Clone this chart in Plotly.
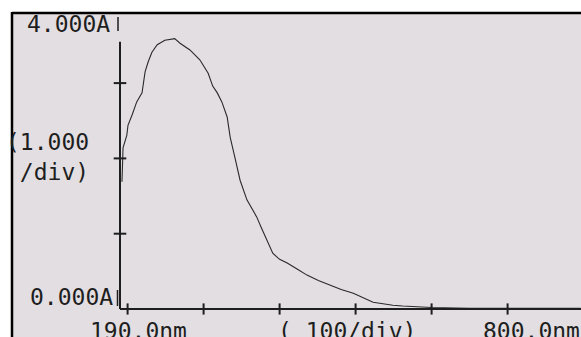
import plotly.graph_objects as go

# Spectrum data (wavelength nm, absorbance A)
wavelength_nm = [192.6, 193.4, 194, 199, 200.5, 206, 212, 219, 221.5, 223, 227, 232, 239, 249, 262,
                 269, 282, 295, 306, 312, 318, 324, 331, 335, 341, 348, 357, 363, 370, 376,
                 381, 386, 391, 400, 410, 423, 436, 451, 466, 481, 497, 510,
                 523, 536, 549, 562, 576, 600, 650, 700, 750, 796]
absorbance_A = [1.69, 1.95, 2.14, 2.31, 2.44, 2.58, 2.75, 2.87, 3.07, 3.15, 3.28, 3.41, 3.51, 3.57, 3.59,
                3.53, 3.44, 3.31, 3.13, 2.96, 2.87, 2.75, 2.55, 2.28, 2.02, 1.71, 1.45, 1.34, 1.22, 1.08,
                0.96, 0.84, 0.74, 0.66, 0.61, 0.53, 0.45, 0.38, 0.32, 0.26, 0.21, 0.15,
                0.09, 0.07, 0.05, 0.04, 0.03, 0.02, 0.01, 0.01, 0.01, 0.01]

x_tick_values = [200, 300, 400, 500, 600, 700]
y_tick_values = [1, 2, 3]
x_start, x_end = 190, 800
y_axis_top = 3.55

top_label = "4.000A"
bottom_label = "0.000A"
y_div_label = "(1.000<br> /div)"
x_left_label = "190.0nm"
x_mid_label = "( 100/div)"
x_right_label = "800.0nm"

BG = "#e3dee1"
INK = "#1e1e1e"
FONT = dict(family="DejaVu Sans Mono", size=23, color=INK)

W, H = 581, 337
L_M, B_M, T_M = 112, 22, 13
PW, PH = W - L_M, H - T_M - B_M


def px_x(p):
    return (p - L_M) / PW


def px_y(p):
    return (H - B_M - p) / PH


fig = go.Figure()

# curve
fig.add_trace(go.Scatter(x=wavelength_nm, y=absorbance_A, mode="lines",
                         line=dict(color="#2a2a2a", width=1.1), hoverinfo="skip"))
# tick marks crossing the axes
fig.add_trace(go.Scatter(x=x_tick_values, y=[0] * len(x_tick_values), mode="markers",
                         marker=dict(symbol="line-ns", size=8, line=dict(color=INK, width=2)),
                         hoverinfo="skip"))
fig.add_trace(go.Scatter(x=[x_start] * len(y_tick_values), y=y_tick_values, mode="markers",
                         marker=dict(symbol="line-ew", size=9, line=dict(color=INK, width=2)),
                         hoverinfo="skip"))

shapes = [
    # panel background
    dict(type="rect", xref="paper", yref="paper", x0=px_x(11), x1=px_x(W + 5), y0=px_y(13), y1=px_y(H + 5),
         fillcolor=BG, line=dict(width=0), layer="below"),
    # border lines
    dict(type="line", xref="paper", yref="paper", x0=px_x(12), x1=px_x(W + 5), y0=px_y(13), y1=px_y(13),
         line=dict(color="black", width=2.5)),
    dict(type="line", xref="paper", yref="paper", x0=px_x(12), x1=px_x(12), y0=px_y(12), y1=px_y(H + 5),
         line=dict(color="black", width=2.5)),
    # axes
    dict(type="line", xref="x", yref="y", x0=x_start, x1=x_end, y0=0, y1=0,
         line=dict(color=INK, width=2)),
    dict(type="line", xref="x", yref="y", x0=x_start, x1=x_start, y0=0, y1=y_axis_top,
         line=dict(color=INK, width=2)),
    # small bars after labels
    dict(type="line", xref="paper", yref="paper", x0=px_x(118), x1=px_x(118), y0=px_y(17), y1=px_y(31),
         line=dict(color=INK, width=1.5)),
    dict(type="line", xref="paper", yref="paper", x0=px_x(117.5), x1=px_x(117.5), y0=px_y(290), y1=px_y(306),
         line=dict(color=INK, width=1.5)),
]

annotations = [
    dict(text=top_label, x=px_x(25), y=px_y(24), xanchor="left", yanchor="middle"),
    dict(text=bottom_label, x=px_x(28), y=px_y(297), xanchor="left", yanchor="middle"),
    dict(text=y_div_label, x=px_x(4), y=px_y(157), xanchor="left", yanchor="middle", align="left"),
    dict(text=x_left_label, x=px_x(88), y=px_y(331), xanchor="left", yanchor="middle"),
    dict(text=x_mid_label, x=px_x(276), y=px_y(331), xanchor="left", yanchor="middle"),
    dict(text=x_right_label, x=px_x(481), y=px_y(331), xanchor="left", yanchor="middle"),
]
for a in annotations:
    a.update(xref="paper", yref="paper", showarrow=False, font=FONT)

x_lo = x_start - (120 - L_M) / 0.76
x_hi = x_start + (W - 120) / 0.76
y_lo = -(H - B_M - 309) / 75.3
y_hi = (309 - T_M) / 75.3

fig.update_layout(
    width=W, height=H,
    margin=dict(l=L_M, r=0, t=T_M, b=B_M, pad=0),
    paper_bgcolor="white", plot_bgcolor=BG,
    showlegend=False,
    shapes=shapes, annotations=annotations,
    xaxis=dict(range=[x_lo, x_hi], visible=False, fixedrange=True),
    yaxis=dict(range=[y_lo, y_hi], visible=False, fixedrange=True),
)

fig.write_html("out.html", config={"displayModeBar": False})
